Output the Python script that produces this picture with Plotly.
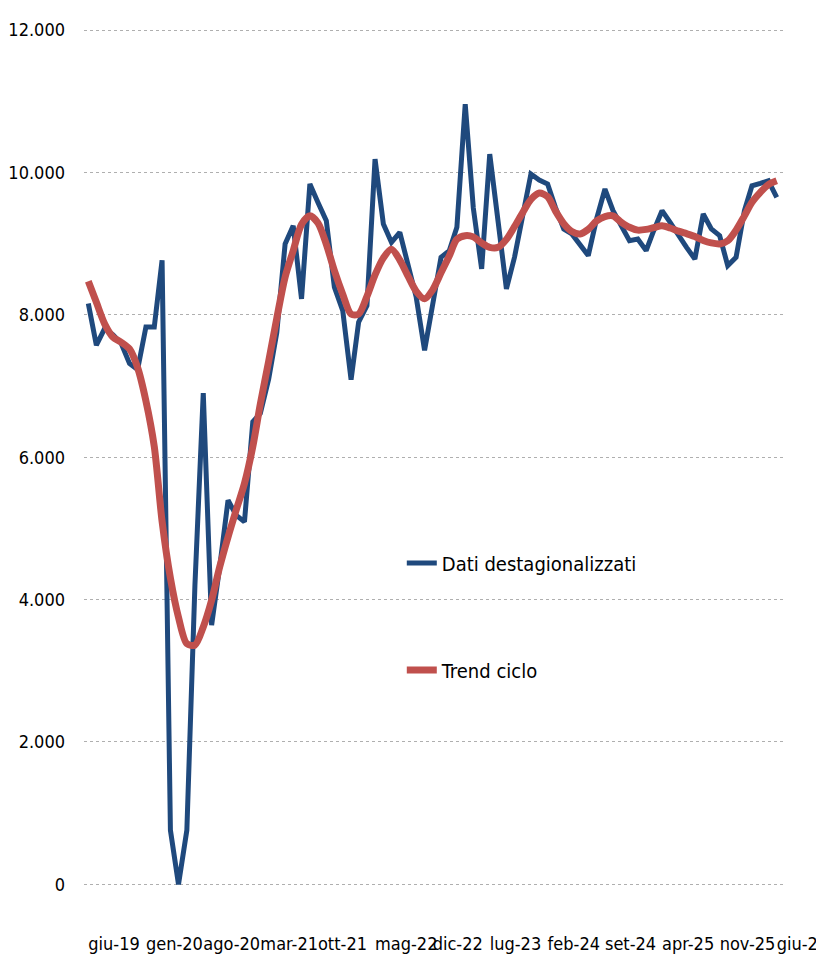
import pandas as pd
from plotly import graph_objects

# monthly series, giu-19 .. giu-26
months = pd.date_range("2019-06-01", periods=85, freq="MS")

dati_destagionalizzati = [
    8160, 7573, 7810, 7720, 7600, 7316, 7230, 7830, 7830, 8767,
    760, 0, 760, 4200, 6900, 3640, 4458, 5395, 5185, 5091,
    6496, 6615, 7100, 7750, 8996, 9252, 8224, 9837, 9579, 9323,
    8387, 8060, 7088, 7896, 8131, 10188, 9276, 9018, 9159, 8668,
    8247, 7500, 8150, 8808, 8902, 9229, 10959, 9500, 8645, 10257,
    9313, 8364, 8808, 9369, 9977, 9893, 9837, 9509, 9206, 9136,
    8972, 8832, 9350, 9767, 9462, 9229, 9042, 9066, 8902, 9182,
    9463, 9299, 9112, 8948, 8784, 9416, 9206, 9112, 8691, 8808,
    9463, 9813, 9846, 9883, 9649,
]

trend_ciclo = [
    8470, 8175, 7870, 7685, 7615, 7520, 7260, 6790, 6150, 5100,
    4300, 3750, 3380, 3360, 3615, 3990, 4458, 4880, 5255, 5630,
    6150, 6750, 7350, 7950, 8530, 8900, 9270, 9390, 9290, 8990,
    8620, 8290, 8010, 8010, 8260, 8560, 8800, 8920, 8770, 8540,
    8330, 8224, 8350, 8590, 8830, 9060, 9112, 9095, 9010, 8948,
    8948, 9060, 9240, 9440, 9620, 9710, 9660, 9460, 9280, 9170,
    9136, 9200, 9320, 9380, 9390, 9300, 9230, 9190, 9200, 9225,
    9250, 9220, 9175, 9140, 9100, 9045, 9010, 8995, 9040, 9190,
    9390, 9580, 9720, 9830, 9883,
]

tick_labels = ["giu-19", "gen-20", "ago-20", "mar-21", "ott-21", "mag-22", "dic-22",
               "lug-23", "feb-24", "set-24", "apr-25", "nov-25", "giu-26"]
tick_dates = months[::7]

font_family = "DejaVu Sans Condensed, Liberation Sans Narrow, sans-serif"

figure = graph_objects.Figure()
figure.add_trace(graph_objects.Scatter(
    x=months, y=dati_destagionalizzati,
    name="Dati destagionalizzati", legendgroup="a",
    mode="lines", line=dict(color="#1F497D", width=5)
))
figure.add_trace(graph_objects.Scatter(
    x=months, y=trend_ciclo,
    name="Trend ciclo", legendgroup="b",
    mode="lines", line=dict(color="#C0504D", width=7, shape="spline", smoothing=0.8)
))

# page body adds 8px, margins compensate for it
figure.update_layout(
    width=824, height=968,
    margin=dict(l=76, r=48, t=21, b=81),
    paper_bgcolor="white", plot_bgcolor="white",
    separators=",.",
    font=dict(family=font_family, size=18, color="black"),
    showlegend=True,
    legend=dict(
        x=0.454, y=0.406, xanchor="left", yanchor="top",
        font=dict(size=20), tracegroupgap=78,
        bgcolor="rgba(0,0,0,0)", itemwidth=30
    )
)
figure.update_xaxes(
    range=["2019-05-16", "2026-06-28"],
    tickvals=tick_dates, ticktext=tick_labels,
    tickangle=0, tickfont=dict(size=18),
    ticklabelposition="outside right",
    ticklabeloverflow="allow",
    ticklabelstandoff=36,
    automargin=False,
    showgrid=False, zeroline=False, showline=False, ticks=""
)
figure.update_yaxes(
    range=[-150, 12015],
    tickvals=[0, 2000, 4000, 6000, 8000, 10000, 12000],
    tickformat=",d",
    ticklabelstandoff=18,
    automargin=False,
    showgrid=True, gridcolor="#AFAFAF", griddash="dot", gridwidth=1,
    zeroline=False, showline=False, ticks=""
)

figure.write_html("out.html")
